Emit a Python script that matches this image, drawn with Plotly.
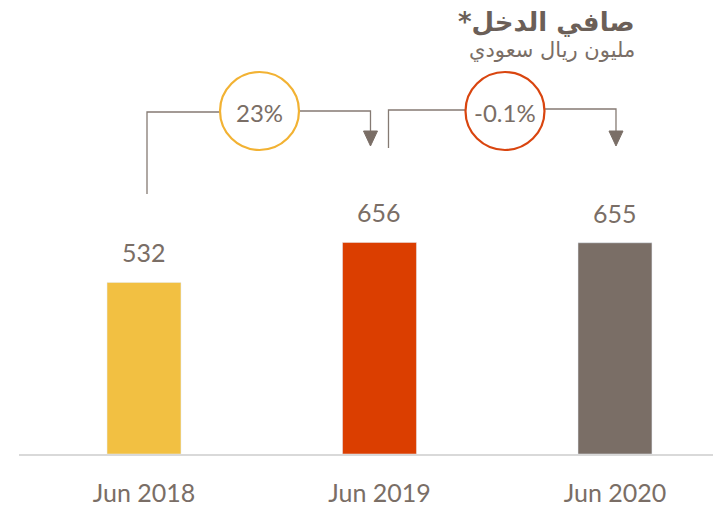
import plotly.graph_objects as go

categories = ["Jun 2018", "Jun 2019", "Jun 2020"]
values = [532, 656, 655]
bar_colors = ["#F2C042", "#DB3E00", "#7A6E66"]
growth_labels = ["23%", "-0.1%"]
growth_colors = ["#F2B233", "#D9450F"]
title_text = "صافي الدخل"
subtitle_text = "مليون ريال سعودي"

TXT = "#7A6E66"
FONT = "Lato, 'DejaVu Sans', sans-serif"
AR_FONT = "'DejaVu Sans', sans-serif"
PLOT_H = 454.0
PX_PER_CAT = 235.5


def py(p):
    return 1 - p / PLOT_H


def dx(px):
    return px / PX_PER_CAT


xs = list(range(len(categories)))
fig = go.Figure()
fig.add_trace(go.Bar(x=xs, y=values, marker_color=bar_colors, width=0.314,
                     hoverinfo="skip"))

for i, v in enumerate(values):
    fig.add_annotation(x=xs[i], y=v, xref="x", yref="y", text=str(v),
                       showarrow=False, yanchor="bottom", yshift=13,
                       font=dict(size=25, color=TXT, family=FONT))

line = dict(color="#857A73", width=1.3)
# connector 1: 2018 -> 2019
c1 = xs[0] + dx(115.5)
fig.add_shape(type="path", xref="x", yref="paper",
              path=f"M {xs[0]+dx(3)} {py(194)} L {xs[0]+dx(3)} {py(112)} L {c1-dx(39.5)} {py(112)}",
              line=line)
fig.add_shape(type="path", xref="x", yref="paper",
              path=f"M {c1+dx(39.5)} {py(111)} L {xs[1]-dx(9)} {py(111)} L {xs[1]-dx(9)} {py(132)}",
              line=line)
# connector 2: 2019 -> 2020
c2 = xs[1] + dx(125.5)
fig.add_shape(type="path", xref="x", yref="paper",
              path=f"M {xs[1]+dx(9)} {py(148)} L {xs[1]+dx(9)} {py(110)} L {c2-dx(39.5)} {py(110)}",
              line=line)
fig.add_shape(type="path", xref="x", yref="paper",
              path=f"M {c2+dx(39.5)} {py(109)} L {xs[2]+dx(1)} {py(109)} L {xs[2]+dx(1)} {py(131)}",
              line=line)
# arrowheads
for ax_x in [xs[1] - dx(9), xs[2] + dx(1)]:
    fig.add_shape(type="path", xref="x", yref="paper",
                  path=f"M {ax_x-dx(7)} {py(131)} L {ax_x+dx(7)} {py(131)} L {ax_x} {py(146)} Z",
                  fillcolor="#7A6E66", line=dict(color="#7A6E66", width=1))

for cx, lab, col in [(c1, growth_labels[0], growth_colors[0]), (c2, growth_labels[1], growth_colors[1])]:
    fig.add_shape(type="circle", xref="x", yref="paper", xsizemode="pixel", ysizemode="pixel",
                  xanchor=cx, yanchor=py(111), x0=-39.5, x1=39.5, y0=-39, y1=39,
                  fillcolor="white", line=dict(color=col, width=2.2))
    fig.add_annotation(x=cx, y=py(112), xref="x", yref="paper", text=lab, showarrow=False,
                       yanchor="middle", xanchor="center",
                       font=dict(size=24, color=TXT, family=FONT))

fig.add_annotation(x=(637 - 19) / 694, y=py(22), xref="paper", yref="paper",
                   text=f"<b>*{title_text}</b>",
                   showarrow=False, xanchor="right", yanchor="middle",
                   font=dict(size=26, color="#6B5F58", family=AR_FONT))
fig.add_annotation(x=(637 - 19) / 694, y=py(50), xref="paper", yref="paper", text=subtitle_text,
                   showarrow=False, xanchor="right", yanchor="middle",
                   font=dict(size=21, color=TXT, family=AR_FONT))

fig.update_layout(
    width=713, height=508, margin=dict(l=19, r=0, t=0, b=54),
    paper_bgcolor="white", plot_bgcolor="white", showlegend=False,
    xaxis=dict(range=[-0.5308, 2.4162], tickvals=xs, ticktext=categories,
               showline=True, linecolor="#D9D9D9", linewidth=2, showgrid=False, zeroline=False,
               ticks="outside", ticklen=16, tickcolor="rgba(0,0,0,0)",
               tickfont=dict(size=25, color=TXT, family=FONT), fixedrange=True),
    yaxis=dict(range=[0, PLOT_H / 0.3225], visible=False, fixedrange=True),
)
fig.write_html("out.html", config={"displayModeBar": False},
               post_script="document.body.style.margin='0';document.body.style.overflow='hidden';")
